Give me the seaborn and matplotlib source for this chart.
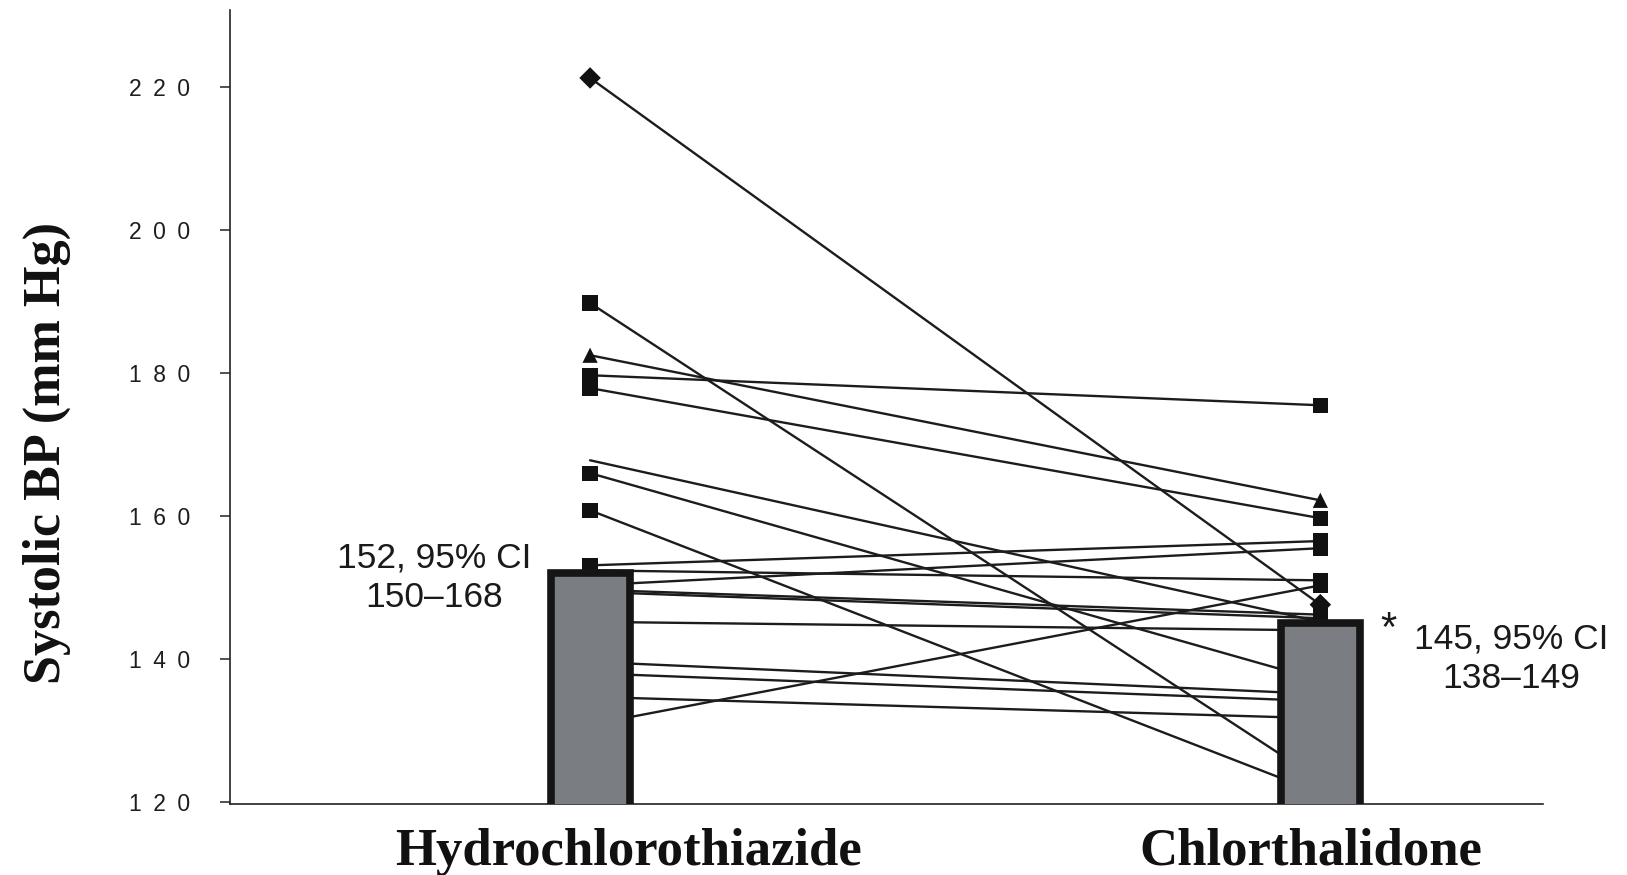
import numpy as np
import pandas as pd
import matplotlib
matplotlib.use("Agg")
import matplotlib.pyplot as plt
import matplotlib.transforms as mtransforms
import seaborn as sns

# Paired systolic BP per patient (mm Hg)
drugs = ["Hydrochlorothiazide", "Chlorthalidone"]
hctz_sbp = [221.3, 189.8, 182.5, 179.7, 177.9, 167.8, 166.0, 160.8, 153.1,
            152.4, 150.3, 149.7, 149.4, 145.2, 139.6, 138.0, 134.7, 130.8]
chlor_sbp = [147.6, 123.0, 162.2, 175.5, 159.7, 145.2, 137.0, 121.2, 156.5,
             151.0, 155.5, 146.2, 145.7, 144.0, 135.1, 134.1, 131.7, 150.3]
hctz_marker = ["D", "s", "^", "s", "s", None, "s", "s", "s",
               "s", "s", "s", "s", "s", "s", "s", "s", "s"]
chlor_marker = ["D", "s", "^", "s", "s", "s", "s", "s", "s",
                "s", "s", "s", "s", "s", "s", "s", "s", "s"]

# Group summary values
group_sbp = [152, 145]
group_labels = ["152, 95% CI\n150\u2013168", "145, 95% CI\n138\u2013149"]
y_ticks = [120, 140, 160, 180, 200, 220]

n = len(hctz_sbp)
long = pd.DataFrame({
    "patient": list(range(n)) * 2,
    "pos": [0] * n + [1] * n,
    "sbp": hctz_sbp + chlor_sbp,
    "shape": hctz_marker + chlor_marker,
})

sns.set_theme(style="white")
plt.rcParams["font.family"] = ["Liberation Sans", "DejaVu Sans"]

fig = plt.figure(figsize=(16.27, 8.75), dpi=100)
ax = fig.add_axes([0.1414, 0.0811, 0.807, 0.9074])

# Patient lines
sns.lineplot(data=long, x="pos", y="sbp", units="patient", estimator=None,
             color="#1c1c1c", linewidth=1.7, sort=False, legend=False, ax=ax,
             zorder=2)

# Patient markers
pts = long.dropna(subset=["shape"])
sns.scatterplot(data=pts, x="pos", y="sbp", style="shape",
                markers={"s": "s", "^": "^", "D": "D"}, color="#111111",
                s=120, linewidth=0, legend=False, ax=ax, zorder=2.5)

# Group bars, drawn on top of the lines
bars = pd.DataFrame({"pos": [0, 1], "sbp": group_sbp})
sns.barplot(data=bars, x="pos", y="sbp", native_scale=True, width=0.108,
            color="#7a7d82", saturation=1, edgecolor="#151515", linewidth=5.5,
            errorbar=None, ax=ax)
for p in ax.patches:
    p.set_zorder(3)

ax.set_xlim(-0.493, 1.305)
ax.set_ylim(119.7, 230.8)

# Axes styling
for side in ["top", "right"]:
    ax.spines[side].set_visible(False)
for side in ["left", "bottom"]:
    ax.spines[side].set_color("#222222")
    ax.spines[side].set_linewidth(1.2)

ax.set_yticks(y_ticks)
ax.set_yticklabels(["\u2002".join(str(t)) for t in y_ticks])
ax.tick_params(axis="y", direction="out", length=7, width=1.1, color="#222222",
               pad=22, labelsize=16.5, labelcolor="#1e1e1e", left=True)

ax.set_xticks([0, 1])
ax.set_xticklabels(drugs, fontfamily="Liberation Serif", fontweight="bold",
                   fontsize=38, color="#111111")
ax.tick_params(axis="x", length=0, pad=17)
offsets = [38, -10]
for lab, dx in zip(ax.get_xticklabels(), offsets):
    lab.set_transform(lab.get_transform() +
                      mtransforms.ScaledTranslation(dx / 100, 0, fig.dpi_scale_trans))

ax.set_xlabel("")
ax.set_ylabel("Systolic BP (mm Hg)", fontfamily="Liberation Serif",
              fontweight="bold", fontsize=37.5, color="#111111")
ax.yaxis.set_label_coords(-0.121, 0.442)

# Group annotations
fig.text(0.2668, 0.3394, group_labels[0], ha="center", va="center",
         multialignment="center", fontsize=25.5, color="#1a1a1a", linespacing=1.25)
fig.text(0.9290, 0.2470, group_labels[1], ha="center", va="center",
         multialignment="center", fontsize=25.5, color="#1a1a1a", linespacing=1.25)
fig.text(0.8531, 0.2800, "*", ha="center", va="center", fontsize=30,
         color="#1a1a1a")

fig.savefig("out.png", dpi=100, facecolor="white")
